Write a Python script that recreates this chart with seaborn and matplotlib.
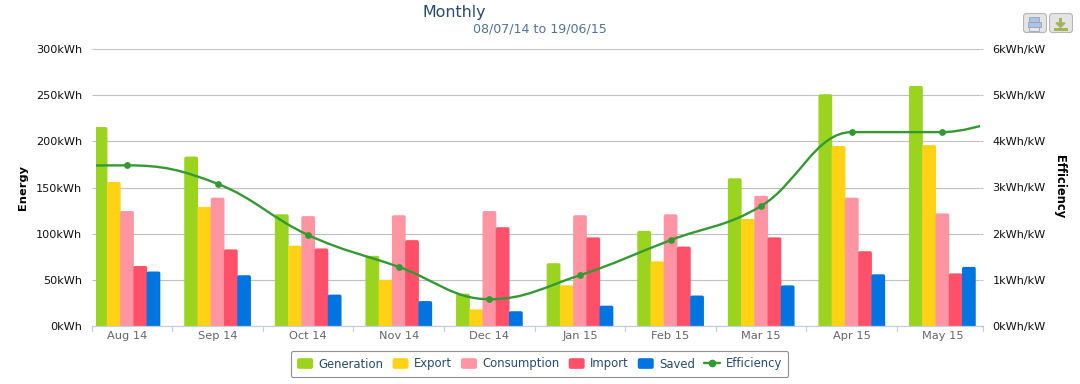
import numpy as np
import pandas as pd
import seaborn as sns
import matplotlib.pyplot as plt
from matplotlib.patches import FancyBboxPatch, PathPatch, Rectangle
from matplotlib.path import Path
from matplotlib.lines import Line2D
from matplotlib.legend_handler import HandlerPatch

months = ['Aug 14', 'Sep 14', 'Oct 14', 'Nov 14', 'Dec 14', 'Jan 15', 'Feb 15', 'Mar 15', 'Apr 15', 'May 15']
generation = [215.5, 183.5, 121, 76, 35, 68, 103, 160, 251, 260]
export = [156, 129, 87, 50, 18, 44, 70, 116, 195, 196]
consumption = [124.5, 139, 119, 120, 124.5, 120, 121, 141, 139, 122]
imported = [65, 83, 84, 93, 107, 96, 86, 96, 81, 57]
saved = [59, 55, 34, 27, 16, 22, 33, 44, 56, 64]
efficiency = [3.48, 3.08, 1.97, 1.28, 0.58, 1.1, 1.86, 2.6, 4.2, 4.2]
# partial months either side of the visible range, only the curve runs towards them
eff_before = 3.47
eff_after = 4.75

series_names = ['Generation', 'Export', 'Consumption', 'Import', 'Saved']
series_colors = ['#9ad41e', '#ffd215', '#ff95a3', '#ff5069', '#0074e0']
line_color = '#339933'

W, H = 1080, 384
LEFT, RIGHT, TOP, BOTTOM = 96, 980, 49, 326

df = pd.DataFrame({'Generation': generation, 'Export': export, 'Consumption': consumption,
                   'Import': imported, 'Saved': saved, 'Month': months})
df = df.melt(id_vars='Month', var_name='Series', value_name='kWh')

sns.set_theme(style='white')
plt.rcParams['font.family'] = ['DejaVu Sans']

fig = plt.figure(figsize=(W / 100, H / 100), dpi=100)
ax = fig.add_axes([LEFT / W, 1 - BOTTOM / H, (RIGHT - LEFT) / W, (BOTTOM - TOP) / H])

sns.barplot(data=df, x='Month', y='kWh', hue='Series', hue_order=series_names, palette=series_colors,
            order=months, width=0.73, saturation=1, legend=False, ax=ax, zorder=3)

xmin, xmax = -0.342, 9.415
ax.set_xlim(xmin, xmax)
ax.set_ylim(0, 300)
ax.set_yticks(range(0, 301, 50))
ax.set_yticklabels([f'{v}kWh' for v in range(0, 301, 50)], fontsize=8.1, color='#111111')
ax.set_xticks(range(len(months)))
ax.set_xticklabels(months, fontsize=8.2, color='#666666')
ax.set_xlabel('')
ax.set_ylabel('')
ax.grid(axis='y', color='#c0c0c0', lw=0.8)
ax.set_axisbelow(True)
ax.tick_params(axis='y', length=3, width=0.8, color='#c0c0c0', pad=7, left=True)
ax.tick_params(axis='x', length=0, pad=3.5)
for s in ax.spines.values():
    s.set_visible(False)

# month boundary ticks and the x axis line, running a little past the plot on both sides
px = (xmax - xmin) / (RIGHT - LEFT)
axis_l, axis_r = xmin - 4 * px, xmax + 3 * px
for b in [axis_l] + list(np.arange(0.5, 9.5)) + [axis_r]:
    ax.plot([b, b], [0, -5.5], color='#c0d0e0', lw=0.9, clip_on=False, zorder=1)
ax.plot([axis_l, axis_r], [0, 0], color='#c0d0e0', lw=0.9, clip_on=False, zorder=5)

# rounded, slightly overlapping bars
bar_w = 0.152
for p in list(ax.patches):
    if not isinstance(p, Rectangle) or p.get_height() <= 0:
        continue
    x0, h, col, z = p.get_x(), p.get_height(), p.get_facecolor(), p.get_zorder()
    cx = x0 + p.get_width() / 2
    p.remove()
    left = max(cx - bar_w / 2, xmin - 0.03)
    ax.add_patch(FancyBboxPatch((left, -3), cx + bar_w / 2 - left, h + 3,
                                boxstyle='round,pad=0,rounding_size=0.02', mutation_aspect=100,
                                fc=col, ec='none', zorder=z))

# second axis and the spline
ax2 = ax.twinx()
ax2.set_ylim(0, 6)
ax2.set_yticks(range(0, 7))
ax2.set_yticklabels([f'{v}kWh/kW' for v in range(0, 7)], fontsize=8.1, color='#111111')
ax2.tick_params(axis='y', length=2.5, width=0.8, color='#c0c0c0', pad=6.5, right=True)
ax2.grid(False)
for s in ax2.spines.values():
    s.set_visible(False)

xs = [-1] + list(range(len(efficiency))) + [len(efficiency)]
ys = [eff_before] + efficiency + [eff_after]


def spline_path(xs, ys, smoothing=1.5):
    # same bezier control points a highcharts spline uses
    verts = [(xs[0], ys[0])]
    codes = [Path.MOVETO]
    n = len(xs)
    right_c = (xs[0], ys[0])
    d = smoothing + 1
    for i in range(1, n):
        if i < n - 1:
            lx = (smoothing * xs[i] + xs[i - 1]) / d
            ly = (smoothing * ys[i] + ys[i - 1]) / d
            rx = (smoothing * xs[i] + xs[i + 1]) / d
            ry = (smoothing * ys[i] + ys[i + 1]) / d
            slope = (ry - ly) / (rx - lx)
            ly = ys[i] - slope * (xs[i] - lx)
            ry = ys[i] + slope * (rx - xs[i])
            # keep extremes flat
            if ly > ys[i - 1] and ly > ys[i]:
                ly = max(ys[i - 1], ys[i])
                ry = 2 * ys[i] - ly
            elif ly < ys[i - 1] and ly < ys[i]:
                ly = min(ys[i - 1], ys[i])
                ry = 2 * ys[i] - ly
            if ry > ys[i + 1] and ry > ys[i]:
                ry = max(ys[i + 1], ys[i])
                ly = 2 * ys[i] - ry
            elif ry < ys[i + 1] and ry < ys[i]:
                ry = min(ys[i + 1], ys[i])
                ly = 2 * ys[i] - ry
        else:
            lx, ly, rx, ry = xs[i], ys[i], xs[i], ys[i]
        verts += [right_c, (lx, ly), (xs[i], ys[i])]
        codes += [Path.CURVE4, Path.CURVE4, Path.CURVE4]
        right_c = (rx, ry)
    return Path(verts, codes)


ax2.add_patch(PathPatch(spline_path(xs, ys), fc='none', ec=line_color, lw=1.7, zorder=6, clip_on=True))
sns.scatterplot(x=list(range(len(efficiency))), y=efficiency, color=line_color, s=24, linewidth=0, zorder=7, ax=ax2)
ax2.set_ylabel('')

fig.text(454 / W, 1 - 12 / H, 'Monthly', fontsize=11.4, color='#274b6d', ha='center', va='center')
fig.text(539.5 / W, 1 - 29 / H, '08/07/14 to 19/06/15', fontsize=9.1, color='#4d759e', ha='center', va='center')
fig.text(23 / W, 1 - 187 / H, 'Energy', fontsize=8.2, fontweight='bold', color='black', rotation=90, ha='center', va='center')
fig.text(1060 / W, 1 - 187 / H, 'Efficiency', fontsize=8.3, fontweight='bold', color='black', rotation=270, ha='center', va='center')


def round_handle(legend, orig_handle, xdescent, ydescent, width, height, fontsize):
    return FancyBboxPatch((-xdescent, -ydescent), width, height, boxstyle='round,pad=0,rounding_size=1.5')


handles = [Rectangle((0, 0), 1, 1, fc=c, ec='none') for c in series_colors]
handles.append(Line2D([0], [0], color=line_color, lw=1.7, marker='o', ms=4.5))
leg = fig.legend(handles, series_names + ['Efficiency'], loc='center', bbox_to_anchor=(539.5 / W, 1 - 364 / H),
                 ncol=6, frameon=True, fontsize=8.4, labelcolor='#274b6d', edgecolor='#909090', facecolor='white',
                 handlelength=1.37, handleheight=1.03, handletextpad=0.47, columnspacing=0.77, borderpad=0.55,
                 borderaxespad=0, fancybox=True, framealpha=1,
                 handler_map={Rectangle: HandlerPatch(patch_func=round_handle)})
leg.get_frame().set_linewidth(0.8)

# export buttons in the top corner
overlay = fig.add_axes([0, 0, 1, 1], facecolor='none')
overlay.set_xlim(0, W)
overlay.set_ylim(H, 0)
overlay.axis('off')
for bx in [1023.5, 1049.5]:
    overlay.add_patch(FancyBboxPatch((bx, 13.5), 23, 19, boxstyle='round,pad=0,rounding_size=3',
                                     fc='#e4e4e4', ec='#b8b8b8', lw=0.8))
overlay.add_patch(Rectangle((1029, 17), 10, 5, fc='#a9c4e4', ec='#8a9ab0', lw=0.5))
overlay.add_patch(Rectangle((1027.5, 22), 13, 5, fc='#a9c4e4', ec='#8a9ab0', lw=0.5))
overlay.add_patch(Rectangle((1029, 27), 10, 3.5, fc='#e8e8e8', ec='#8a9ab0', lw=0.5))
overlay.add_patch(Rectangle((1059, 18), 3, 5, fc='#a3b356', ec='none'))
overlay.fill([1056, 1065, 1060.5], [23, 23, 27.5], color='#a3b356')
overlay.add_patch(Rectangle((1053.5, 28), 14, 2.5, fc='#a3b356', ec='none'))

fig.savefig('out.png', dpi=100, facecolor='white')
